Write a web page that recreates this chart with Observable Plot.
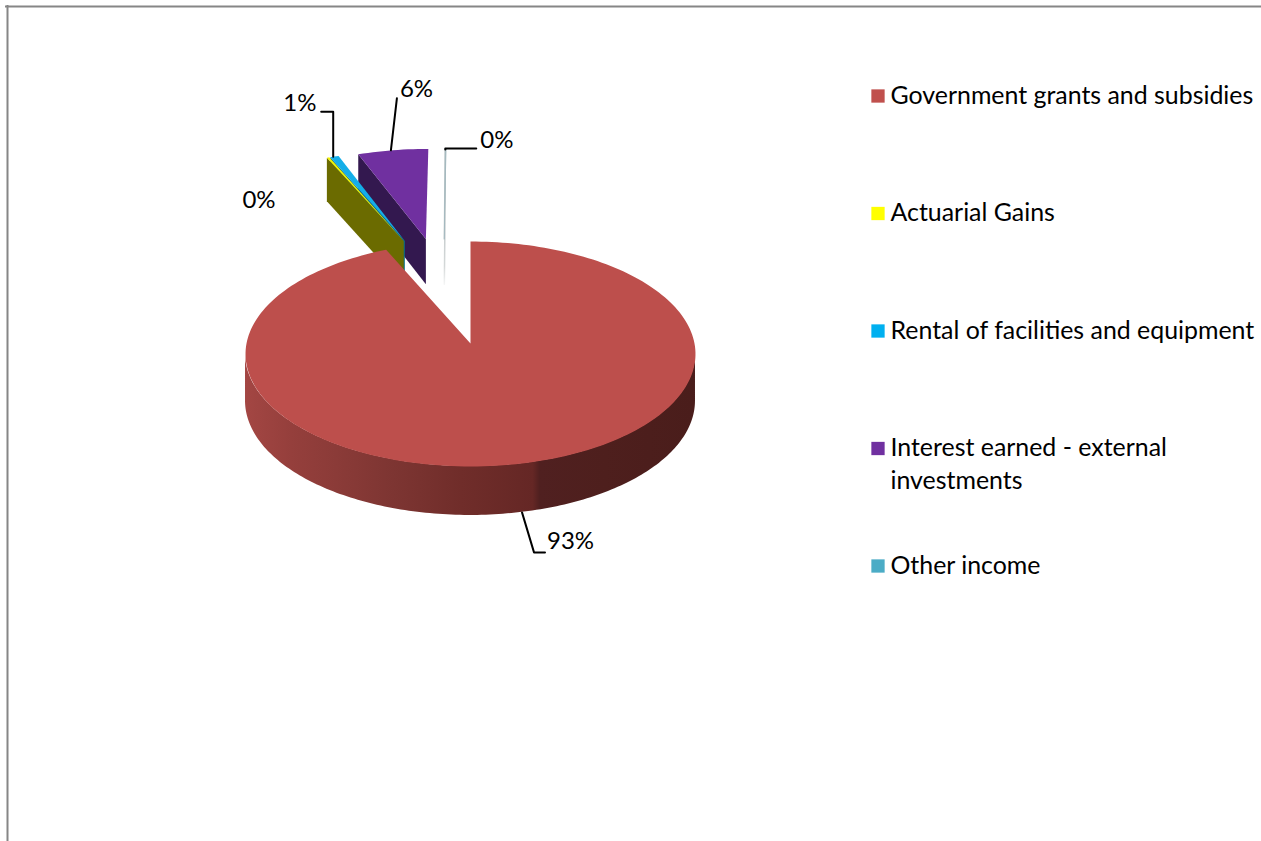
<!DOCTYPE html>
<html>
<head>
<meta charset="utf-8">
<script src="https://cdn.jsdelivr.net/npm/d3@7"></script>
<script src="https://cdn.jsdelivr.net/npm/@observablehq/plot@0.6"></script>
<style>
  html, body { margin: 0; padding: 0; background: #fff; overflow: hidden; }
  svg { display: block; }
</style>
</head>
<body>
<div id="chart"></div>
<script>
// Income sources, share of total in percent
const categories = [
  "Government grants and subsidies",
  "Actuarial Gains",
  "Rental of facilities and equipment",
  "Interest earned - external\ninvestments",
  "Other income"
];
const shares = [93.3, 0.2, 0.7, 5.7, 0.1];
const percentLabels = ["93%", "0%", "1%", "6%", "0%"];
const sliceColors = ["#c0504d", "#ffff00", "#00b0f0", "#7030a0", "#4bacc6"];

// Pie layout: perspective disc seen from above
const W = 1261, H = 841;
const cx = 470, cy = 343, a = 224, b = 111.5, k = 0.0933;
const depth = 47, depthK = 0.04;
// Explosion of each slice: bearing in degrees and distance in radii
const explodeBearing = [0, -17.95, -17.7, -12.0, -7.1];
const explodeDistance = [0, 1.058, 1.055, 1.05, 1.035];
const outerRadius = [1, 1.06, 1.06, 1.058, 1.05];
const topShade = ["#bd4f4c", "#f4f400", "#14aee8", "#7030a0", "#a4b9bf"];
const faceShade = [null, "#6b6b00", "#0b6f86", "#33184f", "#d6dcde"];

const rad = d => d * Math.PI / 180;
const project = (u, v) => ({x: cx + a * u / (1 + k * v), y: cy - b * v / (1 + k * v)});
const sink = v => depth / (1 + depthK * v);

// Cumulative start and end bearing of each slice, clockwise from twelve o'clock
let running = 0;
const total = d3.sum(shares);
const slices = shares.map((s, i) => {
  const start = running / total * 360;
  running += s;
  const end = running / total * 360;
  const ox = Math.sin(rad(explodeBearing[i])) * explodeDistance[i];
  const oy = Math.cos(rad(explodeBearing[i])) * explodeDistance[i];
  return {i, start, end, ox, oy, r: outerRadius[i]};
});

const rim = (s, deg) => ({
  u: s.ox + s.r * Math.sin(rad(deg)),
  v: s.oy + s.r * Math.cos(rad(deg))
});
const topPoint = ({u, v}) => project(u, v);
const lowPoint = ({u, v}) => {
  const p = project(u, v);
  return {x: p.x, y: p.y + sink(v)};
};

// Flat top of a slice: apex, then along the outer arc
function topPolygon(s) {
  const steps = Math.max(2, Math.ceil((s.end - s.start) / 1.5));
  const arc = d3.range(steps + 1).map(j => topPoint(rim(s, s.start + (s.end - s.start) * j / steps)));
  return [topPoint({u: s.ox, v: s.oy}), ...arc];
}
// Cut face along the leading radial edge of a slice
function facePolygon(s) {
  const apex = {u: s.ox, v: s.oy}, edge = rim(s, s.start);
  return [topPoint(apex), topPoint(edge), lowPoint(edge), lowPoint(apex)];
}
const polygon = (pts, fill, stroke = "none", strokeWidth = 1) =>
  Plot.line(pts, {x: "x", y: "y", fill, stroke, strokeWidth, curve: "linear"});

// Curved front wall of the big slice, between the two silhouette bearings
const silhouette = Math.acos(-k) * 180 / Math.PI;
const wall = d3.range(silhouette, 360 - silhouette + 0.5, 1).map(deg => {
  const p = rim(slices[0], deg);
  return {x: topPoint(p).x, y1: topPoint(p).y, y2: lowPoint(p).y};
});

// Apex and lower end of the thin slice's cut face, for its fading edge
const thinFace = facePolygon(slices[4]);

const defs = () => {
  const node = d3.create("svg:defs");
  const g = node.append("linearGradient")
    .attr("id", "wallShade").attr("gradientUnits", "userSpaceOnUse")
    .attr("x1", cx - a).attr("x2", cx + a).attr("y1", 0).attr("y2", 0);
  [[0, "#a34643"], [0.1, "#953f3c"], [0.2, "#8b3b38"], [0.33, "#7d3532"], [0.48, "#702d2a"],
   [0.64, "#652725"], [0.655, "#502020"], [0.8, "#4e1f1d"], [1, "#4a1d1b"]]
    .forEach(([o, c]) => g.append("stop").attr("offset", o).attr("stop-color", c));
  const fade = node.append("linearGradient")
    .attr("id", "thinFade").attr("gradientUnits", "userSpaceOnUse")
    .attr("x1", 0).attr("x2", 0).attr("y1", thinFace[0].y).attr("y2", thinFace[3].y);
  [[0, "#c9cfd0"], [0.6, "#d4d8d8"], [1, "#f4f5f5"]]
    .forEach(([o, c]) => fade.append("stop").attr("offset", o).attr("stop-color", c));
  return node.node();
};

// Leader lines, as offsets from the point where they touch their slice
const leaderSteps = [
  [[0, 0], [12, 40], [23, 40]],
  null,
  [[0, 0], [0, -45], [-12, -45]],
  [[-2, 0], [4, -52]],
  [[0, 0], [0, -1], [31, -1]]
];
const anchors = [
  lowPoint(rim(slices[0], (slices[0].start + slices[0].end) / 2)),
  topPoint(rim(slices[1], slices[1].start)),
  topPoint(rim(slices[2], slices[2].start + 0.9)),
  topPoint(rim(slices[3], (slices[3].start + slices[3].end) / 2)),
  topPoint(rim(slices[4], slices[4].start))
];
const leaders = leaderSteps.flatMap((steps, i) =>
  steps ? steps.map(([dx, dy]) => ({i, x: anchors[i].x + dx, y: anchors[i].y + dy})) : []);
// Label offsets from the same points; the anchor is the text's own start or middle
const labelOffsets = [[25, 29], [-84.5, 42.5], [-50, -53], [7, -61], [35, -9]];
const labels = percentLabels.map((text, i) => ({
  text, x: anchors[i].x + labelOffsets[i][0], y: anchors[i].y + labelOffsets[i][1]
}));

// Legend rows
const rowStep = 117.5, rowTop = 95.5, swatchX = 877.5, legendTextX = 890;
const legend = categories.map((name, i) => ({name, color: sliceColors[i], y: rowTop + rowStep * i}));

const drawOrder = [3, 2, 1];
const font = "Lato, Carlito, Calibri, sans-serif";

const chart = Plot.plot({
  width: W,
  height: H,
  margin: 0,
  x: {domain: [0, W], range: [0, W], axis: null},
  y: {domain: [0, H], range: [0, H], axis: null},
  style: {background: "#fff", fontFamily: font},
  marks: [
    defs,
    // Outer chart border
    Plot.ruleY([6], {x1: 5, x2: W, stroke: "#868686", strokeWidth: 2}),
    Plot.ruleX([7], {y1: 5, y2: H, stroke: "#868686", strokeWidth: 2}),
    // Thin slice at the back, almost edge-on
    polygon(thinFace, "url(#thinFade)", "url(#thinFade)", 1.5),
    polygon(topPolygon(slices[4]), topShade[4], topShade[4], 1),
    // Exploded slices, back to front
    ...drawOrder.flatMap(i => [
      polygon(facePolygon(slices[i]), faceShade[i]),
      polygon(topPolygon(slices[i]), topShade[i])
    ]),
    // Main slice
    Plot.areaY(wall, {x: "x", y1: "y1", y2: "y2", fill: "url(#wallShade)", curve: "linear"}),
    polygon(topPolygon(slices[0]), topShade[0]),
    // Leaders and percentage labels
    Plot.line(leaders, {x: "x", y: "y", z: "i", stroke: "#000", strokeWidth: 2, curve: "linear"}),
    Plot.text(labels, {x: "x", y: "y", text: "text", textAnchor: "start", fontSize: 24, fill: "#000", lineAnchor: "middle"}),
    // Legend
    Plot.dot(legend, {x: () => swatchX, y: "y", symbol: "square", r: 7.5, fill: "color", stroke: "none"}),
    Plot.text(legend, {x: () => legendTextX, y: "y", text: "name", textAnchor: "start", lineAnchor: "top", dy: -15.5, fontSize: 24.9, lineHeight: 1.31, fill: "#000"})
  ]
});
document.getElementById("chart").append(chart);
</script>
</body>
</html>
